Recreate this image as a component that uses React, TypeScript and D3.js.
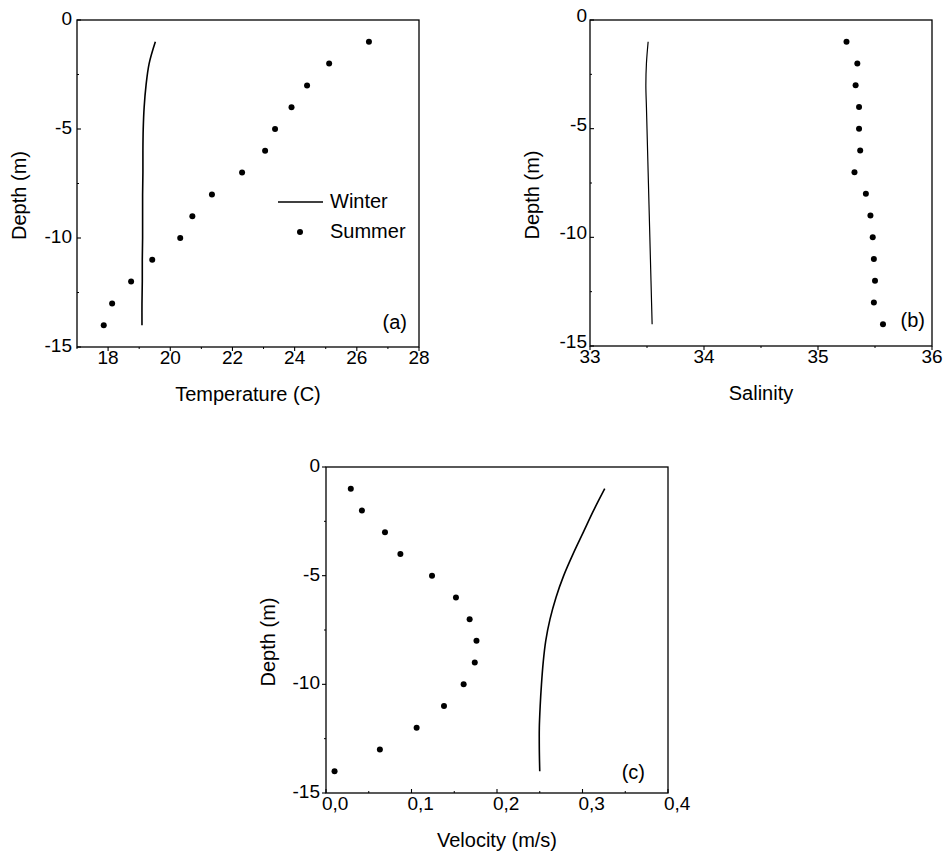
import React from "react";
import * as d3 from "d3";

// depth levels (m) shared by all profiles
const depths = [-1, -2, -3, -4, -5, -6, -7, -8, -9, -10, -11, -12, -13, -14];

// (a) temperature
const tempSummer = [26.39, 25.11, 24.4, 23.9, 23.37, 23.05, 22.31, 21.34, 20.71, 20.32, 19.42, 18.74, 18.13, 17.86];
const tempWinter = [19.52, 19.32, 19.22, 19.16, 19.13, 19.12, 19.12, 19.11, 19.11, 19.11, 19.1, 19.1, 19.09, 19.09];

// (b) salinity
const salSummer = [35.25, 35.345, 35.33, 35.36, 35.36, 35.37, 35.32, 35.42, 35.46, 35.48, 35.49, 35.5, 35.49, 35.57];
const salWinter = [33.51, 33.495, 33.49, 33.495, 33.5, 33.505, 33.51, 33.515, 33.52, 33.525, 33.53, 33.535, 33.54, 33.545];

// (c) velocity
const velSummer = [0.029, 0.042, 0.069, 0.087, 0.124, 0.152, 0.168, 0.176, 0.174, 0.161, 0.138, 0.106, 0.063, 0.01];
const velWinter = [0.326, 0.313, 0.301, 0.289, 0.278, 0.269, 0.262, 0.257, 0.254, 0.252, 0.2505, 0.2495, 0.2495, 0.25];

const depthTicks = [0, -5, -10, -15];
const depthMinor = [-2.5, -7.5, -12.5];
const tempTicks = [18, 20, 22, 24, 26, 28];
const tempMinor = [17, 19, 21, 23, 25, 27];
const salTicks = [33, 34, 35, 36];
const salMinor = [33.5, 34.5, 35.5];
const velTicks = [0, 0.1, 0.2, 0.3, 0.4];
const velMinor = [0.05, 0.15, 0.25, 0.35];

const FONT = "'Liberation Sans', Arial, sans-serif";

type PanelProps = {
  x0: number; x1: number; y0: number; y1: number;
  xDomain: [number, number];
  xTicks: number[]; xMinor: number[];
  fmt: (v: number) => string;
  commaLabels?: boolean;
  xLabel: string;
  summer: number[]; winter: number[];
  tag: string; tagX: number; tagY: number;
  outward?: boolean;
  yLabelGap: number;
  yLabelShift?: number;
  lineWidth: number;
  legend?: boolean;
};

function Panel(p: PanelProps) {
  const x = d3.scaleLinear().domain(p.xDomain).range([p.x0, p.x1]);
  const y = d3.scaleLinear().domain([0, -15]).range([p.y0, p.y1]);
  const line = d3
    .line<number>()
    .x((v) => x(v))
    .y((_, i) => y(depths[i]))
    .curve(d3.curveCatmullRom);
  const dir = p.outward ? 1 : -1;
  const shift = p.yLabelShift ?? -2;
  return (
    <g fontFamily={FONT} fill="#000">
      <rect x={p.x0} y={p.y0} width={p.x1 - p.x0} height={p.y1 - p.y0} fill="none" stroke="#000" strokeWidth={1.3} />
      {/* bottom ticks */}
      {p.xTicks.map((t) => (
        <g key={"xt" + t}>
          <line x1={x(t)} x2={x(t)} y1={p.y1} y2={p.y1 - dir * 4} stroke="#000" strokeWidth={1.1} />
          <text
            x={p.commaLabels ? x(t) - 4 : x(t)}
            y={p.y1 + 17}
            fontSize={19}
            textAnchor={p.commaLabels ? "start" : "middle"}
          >
            {p.fmt(t)}
          </text>
        </g>
      ))}
      {p.xMinor.map((t) => (
        <line key={"xm" + t} x1={x(t)} x2={x(t)} y1={p.y1} y2={p.y1 - dir * 2} stroke="#000" strokeWidth={1} />
      ))}
      {/* left ticks */}
      {depthTicks.map((t) => (
        <g key={"yt" + t}>
          <line x1={p.x0} x2={p.x0 - dir * 4} y1={y(t)} y2={y(t)} stroke="#000" strokeWidth={1.1} />
          <text x={p.x0 - p.yLabelGap} y={y(t) + shift} dy="0.36em" fontSize={19} textAnchor="end">
            {t}
          </text>
        </g>
      ))}
      {depthMinor.map((t) => (
        <line key={"ym" + t} x1={p.x0} x2={p.x0 - dir * 2} y1={y(t)} y2={y(t)} stroke="#000" strokeWidth={1} />
      ))}
      <text
        transform={`translate(${p.x0 - 58},${(p.y0 + p.y1) / 2 + 12}) rotate(-90)`}
        fontSize={20}
        textAnchor="middle"
        dy="0.36em"
      >
        Depth (m)
      </text>
      <text x={(p.x0 + p.x1) / 2} y={p.y1 + 47} dy="0.36em" fontSize={20} textAnchor="middle">
        {p.xLabel}
      </text>
      <path d={line(p.winter) || ""} fill="none" stroke="#000" strokeWidth={p.lineWidth} />
      {p.summer.map((v, i) => (
        <circle key={"s" + i} cx={x(v)} cy={y(depths[i])} r={3} fill="#000" />
      ))}
      <text x={p.tagX} y={p.tagY} dy="0.36em" fontSize={20} textAnchor="end">
        {p.tag}
      </text>
      {p.legend && (
        <g>
          <line x1={278} x2={323} y1={202} y2={202} stroke="#000" strokeWidth={1.5} />
          <text x={330} y={201} dy="0.36em" fontSize={20}>Winter</text>
          <circle cx={300} cy={232} r={3} fill="#000" />
          <text x={330} y={231} dy="0.36em" fontSize={20}>Summer</text>
        </g>
      )}
    </g>
  );
}

export default function App() {
  const dec = (v: number) => v.toFixed(1).replace(".", ",");
  return (
    <div style={{ position: "absolute", left: 0, top: 0 }}>
      <svg width={944} height={852} style={{ display: "block", background: "#fff" }}>
        <Panel
          x0={77} x1={419} y0={20} y1={347}
          xDomain={[17, 28]} xTicks={tempTicks} xMinor={tempMinor}
          fmt={(v) => String(v)} xLabel="Temperature (C)"
          summer={tempSummer} winter={tempWinter}
          tag="(a)" tagX={407} tagY={322}
          yLabelGap={5} lineWidth={1.6} legend
        />
        <Panel
          x0={590} x1={932} y0={20} y1={346}
          xDomain={[33, 36]} xTicks={salTicks} xMinor={salMinor}
          fmt={(v) => String(v)} xLabel="Salinity"
          summer={salSummer} winter={salWinter}
          tag="(b)" tagX={925} tagY={320}
          yLabelGap={3} yLabelShift={-5} lineWidth={1.2}
        />
        <Panel
          x0={326} x1={668} y0={467} y1={793}
          xDomain={[0, 0.4]} xTicks={velTicks} xMinor={velMinor}
          fmt={dec} commaLabels xLabel="Velocity (m/s)"
          summer={velSummer} winter={velWinter}
          tag="(c)" tagX={645} tagY={772}
          yLabelGap={6} lineWidth={1.6} outward
        />
      </svg>
    </div>
  );
}
